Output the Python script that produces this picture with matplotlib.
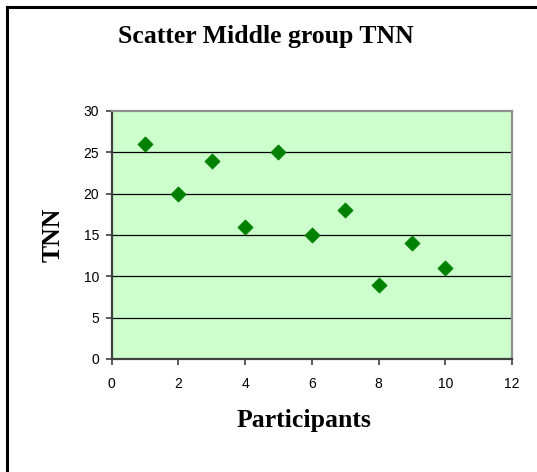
import matplotlib
matplotlib.use("Agg")
import matplotlib.pyplot as plt
from matplotlib.lines import Line2D

participants = [1, 2, 3, 4, 5, 6, 7, 8, 9, 10]
tnn = [26, 20, 24, 16, 25, 15, 18, 9, 14, 11]
x_ticks = [0, 2, 4, 6, 8, 10, 12]
y_ticks = [0, 5, 10, 15, 20, 25, 30]

W, H = 537, 472
fig = plt.figure(figsize=(W / 100, H / 100), dpi=100)
fig.patch.set_facecolor("white")

ax = fig.add_axes([111.7 / W, 1 - 359 / H, (512 - 111.7) / W, (359 - 111) / H])
ax.set_facecolor("#CCFFCC")
ax.set_xlim(0, 12)
ax.set_ylim(0, 30)
ax.set_xticks(x_ticks)
ax.set_yticks(y_ticks)

for y in y_ticks[1:-1]:
    ax.axhline(y, color="black", lw=0.9, zorder=1)

ax.scatter(participants, tnn, marker="D", s=60, color="#008000",
           edgecolors="#008000", linewidths=0.5, zorder=3, clip_on=False)

for side in ("left", "bottom"):
    ax.spines[side].set_color("#404040")
    ax.spines[side].set_linewidth(1.6)
for side in ("top", "right"):
    ax.spines[side].set_color("#909090")
    ax.spines[side].set_linewidth(1.6)

ax.tick_params(axis="both", direction="out", length=4, width=1.2, color="#404040",
               labelsize=10, pad=5)
for lab in ax.get_xticklabels() + ax.get_yticklabels():
    lab.set_fontfamily("Liberation Sans")
ax.tick_params(axis="x", pad=9)

fig.text(266 / W, 1 - 37 / H, "Scatter Middle group TNN", ha="center", va="center",
         fontsize=18.5, fontweight="bold", family="Liberation Serif")
fig.text(304 / W, 1 - 420 / H, "Participants", ha="center", va="center",
         fontsize=18.5, fontweight="bold", family="Liberation Serif")
fig.text(53 / W, 1 - 235 / H, "TNN", ha="center", va="center", rotation=90,
         fontsize=18.5, fontweight="bold", family="Liberation Serif")

# outer frame (left and top edges visible)
fig.add_artist(Line2D([6.5 / W, 6.5 / W], [0, 1 - 6.5 / H], transform=fig.transFigure,
                      color="black", lw=2.2))
fig.add_artist(Line2D([6.5 / W, 1], [1 - 6.5 / H, 1 - 6.5 / H], transform=fig.transFigure,
                      color="black", lw=2.2))

fig.savefig("out.png", dpi=100)
